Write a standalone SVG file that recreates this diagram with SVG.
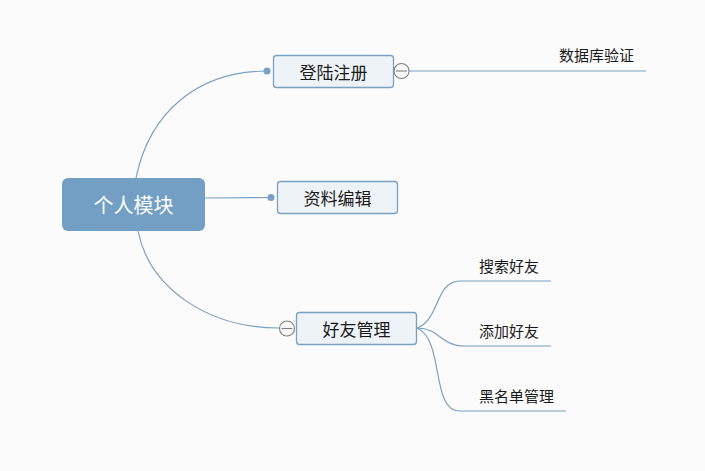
<svg xmlns="http://www.w3.org/2000/svg" width="705" height="471" viewBox="0 0 705 471">
<defs>
<style>
.bg{fill:#fbfbfb}
.ln{fill:none;stroke:#7aa0c2;stroke-width:1.2}
.dot{fill:#7aa0c2}
.node{fill:#eef3f7;stroke:#7aa0c2;stroke-width:1.3}
.root{fill:#729fc3}
.col{fill:#fafafa;stroke:#808080;stroke-width:1.1}
.colm{stroke:#808080;stroke-width:1.1}
.t{font-family:"Noto Sans CJK SC","Noto Sans",sans-serif;fill:#1a1a1a;text-anchor:middle;dominant-baseline:central}
.rt{font-family:"Noto Sans CJK SC","Noto Sans",sans-serif;fill:#ffffff;text-anchor:middle;dominant-baseline:central;font-size:20px}
.nt{font-size:17px}
.lt{font-size:15px;text-anchor:start}
</style>
</defs>
<rect class="bg" x="0" y="0" width="705" height="471"/>
<g id="connectors">
<path class="ln" d="M136,178 C150,110 200,71 267,71"/>
<path class="ln" d="M205,198 L271,197.5"/>
<path class="ln" d="M138,231 C150,290 210,328 279,328"/>
<path class="ln" d="M409,71 L646,71"/>
<path class="ln" d="M417,328 C440,320 435,281 460,281 L551,281"/>
<path class="ln" d="M417,328 C440,328 440,346 465,346 L551,346"/>
<path class="ln" d="M417,328 C445,340 430,411 460,411 L566,411"/>
<circle class="dot" cx="267" cy="71" r="3.5"/>
<circle class="dot" cx="271" cy="197.5" r="3.5"/>
</g>
<g id="root">
<rect class="root" x="62" y="178" width="143" height="53" rx="6"/>
<text class="rt" x="133.5" y="204.5">个人模块</text>
</g>
<g id="n-login">
<rect class="node" x="273.5" y="55.5" width="120" height="32" rx="3"/>
<text class="t nt" x="333.5" y="71.5">登陆注册</text>
<circle class="col" cx="401.5" cy="71" r="7.5"/>
<line class="colm" x1="396" y1="71" x2="407" y2="71"/>
</g>
<g id="n-profile">
<rect class="node" x="277.5" y="181.5" width="120" height="32" rx="3"/>
<text class="t nt" x="337.5" y="197.5">资料编辑</text>
</g>
<g id="n-friends">
<rect class="node" x="296.5" y="312.5" width="120" height="32" rx="3"/>
<text class="t nt" x="356.5" y="328.5">好友管理</text>
<circle class="col" cx="287" cy="328.5" r="7.5"/>
<line class="colm" x1="281.5" y1="328.5" x2="292.5" y2="328.5"/>
</g>
<g id="n-db">
<text class="t lt" x="559" y="54">数据库验证</text>
</g>
<g id="n-search">
<text class="t lt" x="479" y="265">搜索好友</text>
</g>
<g id="n-add">
<text class="t lt" x="479" y="330">添加好友</text>
</g>
<g id="n-black">
<text class="t lt" x="479" y="395">黑名单管理</text>
</g>
</svg>
